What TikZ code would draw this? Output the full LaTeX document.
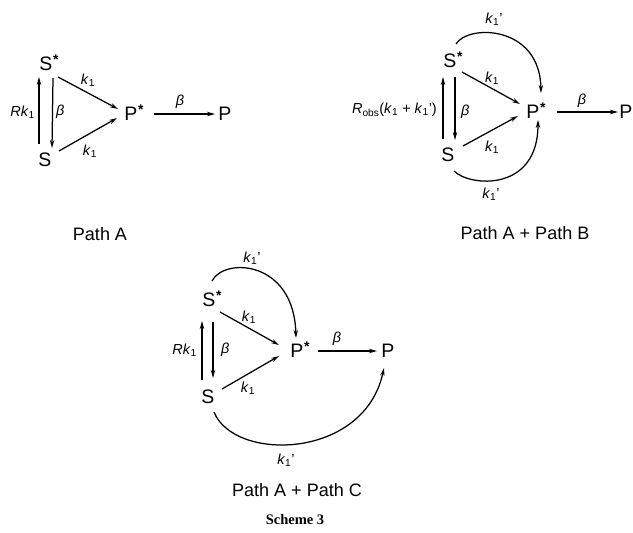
\documentclass[tikz,border=0pt]{standalone}
\usepackage{fontspec}
\setmainfont{Liberation Sans}
\newfontfamily\schemefont{Liberation Serif}
\usetikzlibrary{arrows.meta}
\newcommand{\kone}{\textit{k}\textsubscript{1}}
\newcommand{\stx}{\rlap{\smash{\kern0.5pt\raisebox{6.5pt}{\fontsize{14}{14}\selectfont\bfseries *}}}}
\tikzset{
  main/.style={inner sep=0pt, font=\fontsize{19.5}{21}\selectfont},
  lab/.style={inner sep=0pt, font=\fontsize{14.5}{16}\selectfont},
  captext/.style={inner sep=0pt, font=\fontsize{18}{20}\selectfont},
  arr/.style={-{Stealth[length=8pt,width=4.4pt]}, line width=1.25pt},
}
\begin{document}
\begin{tikzpicture}[x=1pt,y=-1pt]
\useasboundingbox (0,0) rectangle (633,533);

% ---------------- Path A ----------------
\node[main] (aSs) at (46,64) {S\stx};
\node[main] (aS)  at (45,160) {S};
\node[main] (aPs) at (131,114) {P\stx};
\node[main] (aP)  at (225,114) {P};
\draw[arr] ([shift={(-6,-16)}]aS.center) -- ([shift={(-7,13)}]aSs.center);
\draw[arr] ([shift={(7,14)}]aSs.center) -- ([shift={(7,-12)}]aS.center);
\draw[arr] ([shift={(12,13)}]aSs.center) -- ([shift={(-13,-5)}]aPs.center);
\draw[arr] ([shift={(14,-9)}]aS.center) -- ([shift={(-14,4)}]aPs.center);
\draw[arr] ([shift={(23,0)}]aPs.center) -- ([shift={(-10,0)}]aP.center);
\node[lab,anchor=east] (aR) at (35,112) {\textit{R}\kone};
\node[lab,anchor=west] (aB) at (56,112) {\textit{β}};
\node[lab] (ak1) at (88,80) {\kone};
\node[lab] (ak2) at (90,151) {\kone};
\node[lab] (aB2) at (180,102) {\textit{β}};
\node[captext] (acap) at (100,234) {Path A};

% ---------------- Path A + Path B ----------------
\node[main] (bSs) at (450,61) {S\stx};
\node[main] (bS)  at (448,155) {S};
\node[main] (bPs) at (533,112) {P\stx};
\node[main] (bP)  at (626,112) {P};
\draw[arr] ([shift={(-5,-16)}]bS.center) -- ([shift={(-7,16)}]bSs.center);
\draw[arr] ([shift={(5,16)}]bSs.center) -- ([shift={(7,-15)}]bS.center);
\draw[arr] ([shift={(12,11)}]bSs.center) -- ([shift={(-13,-8)}]bPs.center);
\draw[arr] ([shift={(15,-9)}]bS.center) -- ([shift={(-15,4)}]bPs.center);
\draw[arr] ([shift={(24,0)}]bPs.center) -- ([shift={(-8,0)}]bP.center);
\draw[arr] ([shift={(6,-17)}]bSs.center) .. controls +(12,-20) and +(-1,-68) .. ([shift={(8,-19)}]bPs.center);
\draw[arr] ([shift={(6,16)}]bS.center) .. controls +(16,16) and +(0,72) .. ([shift={(5,8)}]bPs.center);
\node[lab,anchor=east] (bR) at (437,110) {\textit{R}\textsubscript{obs}(\kone{} + \kone')};
\node[lab,anchor=west] (bB) at (461,112) {\textit{β}};
\node[lab] (bk1) at (492,78) {\kone};
\node[lab] (bk2) at (492,147) {\kone};
\node[lab] (bB2) at (582,101) {\textit{β}};
\node[lab] (bk3) at (494,19) {\kone'};
\node[lab] (bk4) at (491,194) {\kone'};
\node[captext] (bcap) at (525,233) {Path A + Path B};

% ---------------- Path A + Path C ----------------
\node[main] (cSs) at (209,300) {S\stx};
\node[main] (cS)  at (208,397) {S};
\node[main] (cPs) at (297,351) {P\stx};
\node[main] (cP)  at (388,351) {P};
\draw[arr] ([shift={(-6,-17)}]cS.center) -- ([shift={(-7,21)}]cSs.center);
\draw[arr] ([shift={(4,22)}]cSs.center) -- ([shift={(5,-19)}]cS.center);
\draw[arr] ([shift={(11,12)}]cSs.center) -- ([shift={(-18,-6)}]cPs.center);
\draw[arr] ([shift={(14,-8)}]cS.center) -- ([shift={(-18,5)}]cPs.center);
\draw[arr] ([shift={(21,0)}]cPs.center) -- ([shift={(-11,0)}]cP.center);
\draw[arr] ([shift={(3,-19)}]cSs.center) .. controls +(12,-24) and +(-2,-78) .. ([shift={(-1,-13)}]cPs.center);
\draw[arr] ([shift={(6,15)}]cS.center) .. controls +(20,50) and +(-20,92) .. ([shift={(-4,17)}]cP.center);
\node[lab,anchor=east] (cR) at (197,350) {\textit{R}\kone};
\node[lab,anchor=west] (cB) at (221,350) {\textit{β}};
\node[lab] (ck1) at (249,317) {\kone};
\node[lab] (ck2) at (248,388) {\kone};
\node[lab] (cB2) at (337,339) {\textit{β}};
\node[lab] (ck3) at (252,258) {\kone'};
\node[lab] (ck4) at (286,460) {\kone'};
\node[captext] (ccap) at (297,490) {Path A + Path C};
\node[inner sep=0pt, font=\schemefont\bfseries\fontsize{14.5}{16}\selectfont] (scheme) at (295,520) {Scheme 3};
\end{tikzpicture}
\end{document}
